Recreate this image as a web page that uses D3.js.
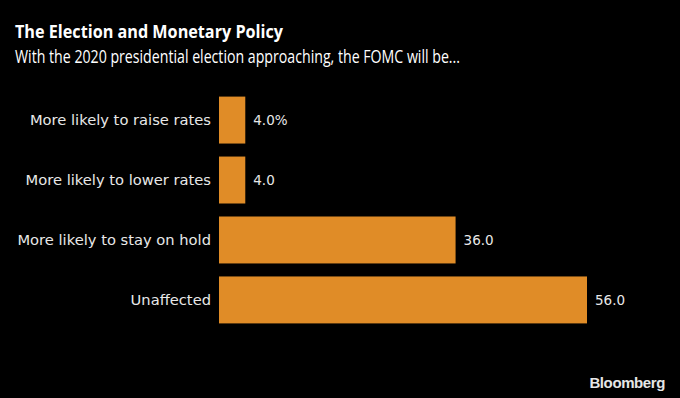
<!DOCTYPE html>
<html>
<head>
<meta charset="utf-8">
<script src="https://cdn.jsdelivr.net/npm/d3@7"></script>
<style>
  html, body { margin: 0; padding: 0; background: #000; }
  svg { display: block; font-family: "Open Sans", "DejaVu Sans", sans-serif; }
</style>
</head>
<body>
<div id="chart"></div>
<script>
// chart data
const categories = [
  'More likely to raise rates',
  'More likely to lower rates',
  'More likely to stay on hold',
  'Unaffected'
];
const values = [4.0, 4.0, 36.0, 56.0];
const valueLabels = ['4.0%', '4.0', '36.0', '56.0'];

const title = 'The Election and Monetary Policy';
const subtitle = 'With the 2020 presidential election approaching, the FOMC will be...';

const svg = d3.select('#chart')
  .append('svg')
  .attr('width', 680)
  .attr('height', 398);

svg.append('rect')
  .attr('width', 680)
  .attr('height', 398)
  .attr('fill', '#000');

const margin = { top: 90, left: 219 };

const x = d3.scaleLinear()
  .domain([0, 56])
  .range([0, 368]);

const y = d3.scaleBand()
  .domain(categories)
  .range([0, 240])
  .paddingInner(0.217)
  .paddingOuter(0.11);

const g = svg.append('g')
  .attr('transform', `translate(${margin.left},${margin.top})`);

// titles
svg.append('text')
  .attr('x', 15)
  .attr('y', 38)
  .attr('fill', '#fff')
  .attr('font-size', 18)
  .attr('font-weight', 'bold')
  .attr('textLength', 268)
  .attr('lengthAdjust', 'spacingAndGlyphs')
  .text(title);

svg.append('text')
  .attr('x', 15)
  .attr('y', 63)
  .attr('fill', '#fff')
  .attr('font-size', 18)
  .attr('textLength', 445)
  .attr('lengthAdjust', 'spacingAndGlyphs')
  .text(subtitle);

// bars
g.selectAll('.bar')
  .data(values)
  .enter().append('rect')
  .attr('class', 'bar')
  .attr('x', 0)
  .attr('y', (d, i) => y(categories[i]))
  .attr('width', d => x(d))
  .attr('height', y.bandwidth())
  .attr('fill', '#e08c27');

// category labels
g.append('g')
  .attr('class', 'axis axis-y')
  .call(d3.axisLeft(y).tickSize(0).tickPadding(8))
  .call(a => a.select('.domain').remove())
  .selectAll('text')
  .attr('fill', '#e8e8e8')
  .attr('font-size', 14.7)
  .attr('font-family', '"DejaVu Sans", sans-serif');

// value labels
g.selectAll('.val')
  .data(values)
  .enter().append('text')
  .attr('class', 'val')
  .attr('x', d => x(d) + 8)
  .attr('y', (d, i) => y(categories[i]) + y.bandwidth() / 2)
  .attr('dy', '0.35em')
  .attr('fill', '#e8e8e8')
  .attr('font-size', 13.5)
  .attr('font-family', '"DejaVu Sans", sans-serif')
  .text((d, i) => valueLabels[i]);

// logo
svg.append('text')
  .attr('x', 665)
  .attr('y', 388)
  .attr('text-anchor', 'end')
  .attr('fill', '#e6e6e6')
  .attr('font-size', 15)
  .attr('font-weight', 'bold')
  .attr('font-family', '"Liberation Sans", Arial, sans-serif')
  .attr('letter-spacing', '-0.4')
  .text('Bloomberg');
</script>
</body>
</html>
